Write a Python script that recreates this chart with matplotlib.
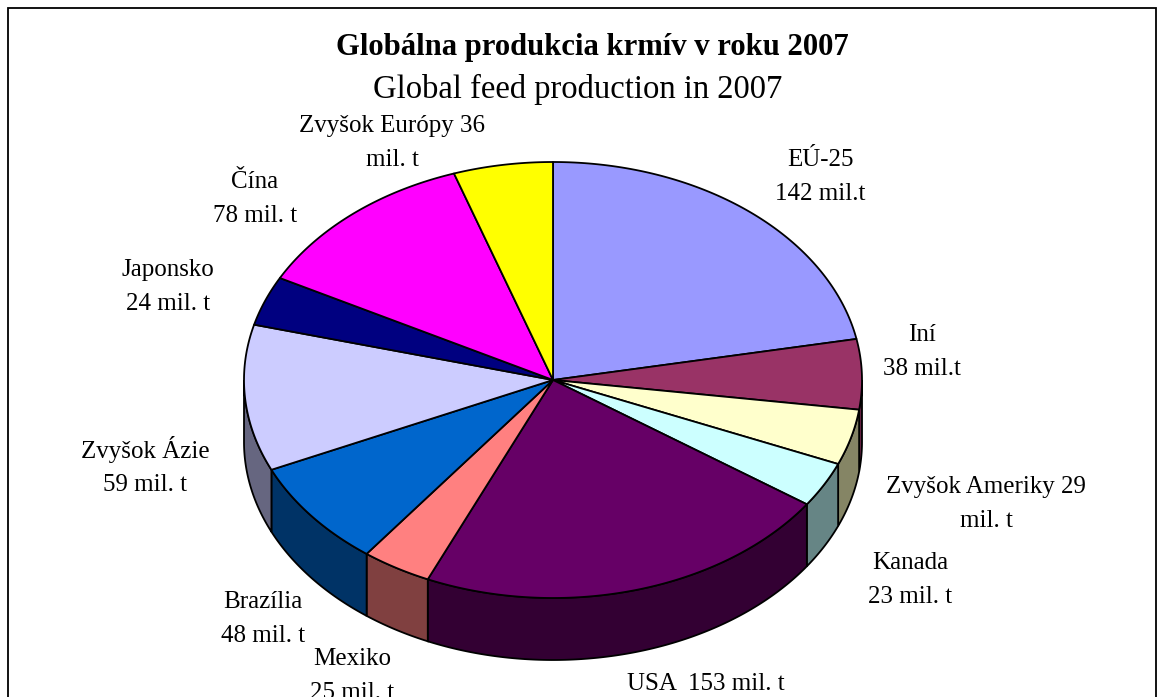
import numpy as np
import matplotlib
matplotlib.use("Agg")
import matplotlib.pyplot as plt
from matplotlib.patches import Polygon, Rectangle

# clockwise from 12 o'clock, sizes as drawn (they differ a bit from the printed labels)
slices = ["EU", "Ini", "ZvAm", "Kanada", "USA", "Mexiko", "Brazilia", "ZvAzia", "Japonsko", "Cina", "ZvEu"]
values = [144, 34, 27, 22, 144, 24, 52, 71, 24, 79, 34]
top_colors = ["#9999FF", "#993366", "#FFFFCC", "#CCFFFF", "#660066", "#FF8080",
              "#0066CC", "#CCCCFF", "#000080", "#FF00FF", "#FFFF00"]
side_colors = ["#666699", "#662244", "#858565", "#668585", "#330033", "#804040",
               "#003366", "#666680", "#000040", "#800080", "#808000"]

label_texts = ["EÚ-25\n142 mil.t", "Iní\n38 mil.t", "Zvyšok Ameriky 29\nmil. t", "Kanada\n23 mil. t",
               "USA  153 mil. t", "Mexiko\n25 mil. t", "Brazília\n48 mil. t", "Zvyšok Ázie\n59 mil. t",
               "Japonsko\n24 mil. t", "Čína\n78 mil. t", "Zvyšok Európy 36\nmil. t"]
label_x = [820, 922, 986, 910, 706, 352, 263, 145, 168, 255, 392]
label_y = [177, 352, 504, 580, 684, 676, 619, 466, 287, 199, 143]

W, H = 1164, 697
cx, cy, rx, ry, depth = 553, 380, 309, 218, 62

plt.rcParams["font.family"] = ["Liberation Serif", "DejaVu Serif"]
fig = plt.figure(figsize=(W / 100, H / 100), dpi=100)
ax = fig.add_axes([0, 0, 1, 1])
ax.set_xlim(0, W)
ax.set_ylim(H, 0)
ax.axis("off")

ax.add_patch(Rectangle((8, 8), 1148, 800, fc="white", ec="black", lw=1.3, zorder=0))


def rim(a0, a1):
    t = np.radians(np.linspace(a0, a1, max(int(abs(a1 - a0)) * 2, 2)))
    return cx + rx * np.sin(t), cy - ry * np.cos(t)


edges = np.concatenate([[0], np.cumsum(values)]) / sum(values) * 360

# side walls, only the front half of the rim shows (90..270 deg)
for i in range(len(values)):
    a0, a1 = max(edges[i], 90), min(edges[i + 1], 270)
    if a1 <= a0:
        continue
    x, y = rim(a0, a1)
    pts = np.column_stack([np.r_[x, x[::-1]], np.r_[y, y[::-1] + depth]])
    ax.add_patch(Polygon(pts, fc=side_colors[i], ec="black", lw=1.3, zorder=2))

# top face
for i in range(len(values)):
    x, y = rim(edges[i], edges[i + 1])
    pts = np.column_stack([np.r_[cx, x], np.r_[cy, y]])
    ax.add_patch(Polygon(pts, fc=top_colors[i], ec="black", lw=1.3, zorder=3, joinstyle="round"))

ax.text(592, 48, "Globálna produkcia krmív v roku 2007", ha="center", va="center",
        fontsize=22.1, fontweight="bold", color="black")
ax.text(578, 89, "Global feed production in 2007", ha="center", va="center", fontsize=23.5, color="black")

for t, x, y in zip(label_texts, label_x, label_y):
    ax.text(x, y, t, ha="center", va="center", fontsize=18, linespacing=1.65, color="black", zorder=5)

fig.savefig("out.png", dpi=100)
